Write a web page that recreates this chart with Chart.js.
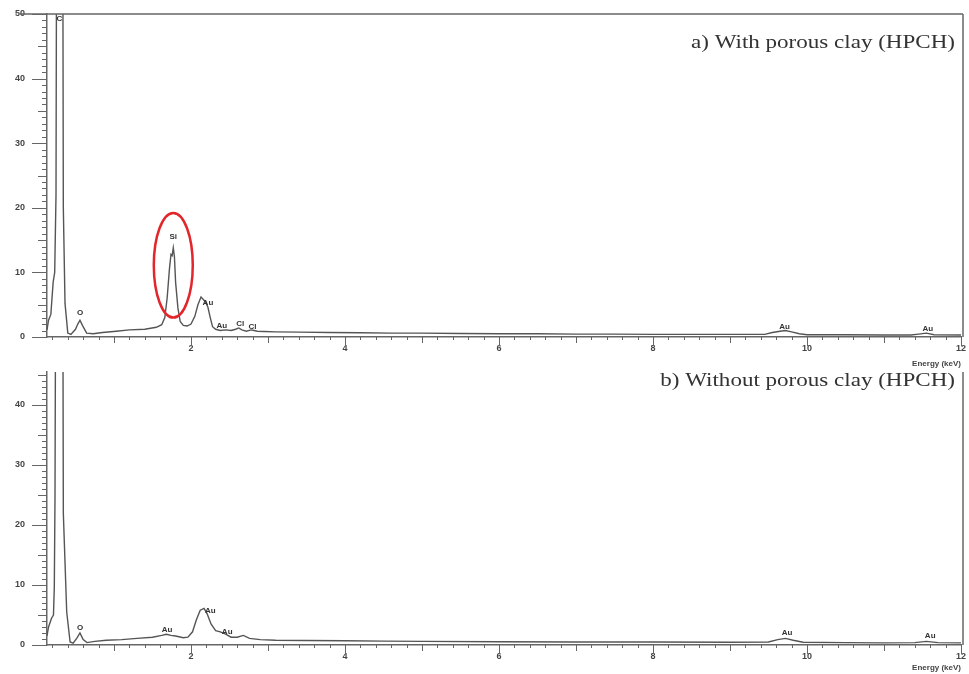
<!DOCTYPE html>
<html>
<head>
<meta charset="utf-8">
<script src="https://cdn.jsdelivr.net/npm/chart.js@4"></script>
<style>
html, body { margin: 0; padding: 0; background: #fff; }
#wrap { position: relative; width: 969px; height: 674px; }
canvas { position: absolute; left: 0; }
</style>
</head>
<body>
<div id="wrap">
    <canvas id="chartA" width="969" height="370" style="top:0"></canvas>
    <canvas id="chartB" width="969" height="314" style="top:360px"></canvas>
</div>
<script>
// spectrum a) with porous clay
const energyA = [0.13, 0.15, 0.18, 0.21, 0.23, 0.247, 0.26, 0.33, 0.342, 0.364, 0.40, 0.44, 0.50, 0.53, 0.558, 0.59, 0.645, 0.73, 0.85, 1.03,
    1.2, 1.4, 1.55, 1.62, 1.66, 1.69, 1.72, 1.74, 1.755, 1.77, 1.785, 1.80, 1.83, 1.86, 1.90, 1.95, 2.00, 2.05, 2.09, 2.13,
    2.16, 2.19, 2.22, 2.25, 2.28, 2.32, 2.38, 2.45, 2.52, 2.58, 2.62, 2.66, 2.72, 2.78, 2.82, 2.86, 2.95, 3.1, 3.4, 3.8,
    4.2, 4.6, 5.0, 5.5, 6.0, 6.5, 7.0, 7.5, 8.0, 8.5, 9.0, 9.45, 9.55, 9.65, 9.72, 9.8, 9.9, 10.0, 10.5, 11.0,
    11.35, 11.45, 11.55, 11.65, 12.0];
const countsA = [1.1, 2.6, 3.5, 8.5, 10, 22, 95, 95, 20, 5.2, 0.6, 0.4, 1.2, 2.0, 2.6, 1.8, 0.6, 0.5, 0.7, 0.9,
    1.1, 1.2, 1.5, 1.9, 3.0, 6.0, 10.5, 12.8, 12.6, 13.8, 12.4, 8.5, 4.5, 2.4, 1.8, 1.7, 2.0, 3.2, 5.0, 6.2,
    5.8, 5.4, 4.6, 3.0, 1.6, 1.2, 1.0, 1.1, 1.0, 1.2, 1.4, 1.1, 0.9, 1.1, 1.0, 0.9, 0.85, 0.8, 0.75, 0.7,
    0.65, 0.6, 0.6, 0.55, 0.5, 0.5, 0.45, 0.45, 0.4, 0.4, 0.4, 0.4, 0.7, 0.9, 1.0, 0.8, 0.5, 0.35, 0.35, 0.3,
    0.3, 0.45, 0.6, 0.35, 0.3];
const peakTextA = ['C', 'O', 'Si', 'Au', 'Au', 'Cl', 'Cl', 'Au', 'Au'];
const peakKevA = [0.29, 0.56, 1.77, 2.22, 2.4, 2.64, 2.8, 9.71, 11.57];
const peakPosA = [49.3, 3.7, 15.5, 5.3, 1.7, 2.0, 1.6, 1.6, 1.3];

// spectrum b) without porous clay
const energyB = [0.13, 0.15, 0.19, 0.214, 0.225, 0.234, 0.25, 0.33, 0.342, 0.386, 0.43, 0.47, 0.52, 0.558, 0.60, 0.65, 0.75, 0.9, 1.1, 1.3,
    1.5, 1.62, 1.68, 1.74, 1.8, 1.9, 1.96, 2.02, 2.07, 2.12, 2.17, 2.21, 2.26, 2.32, 2.38, 2.45, 2.52, 2.6, 2.68, 2.76,
    2.9, 3.1, 3.5, 4.0, 4.5, 5.0, 6.0, 7.0, 8.0, 9.0, 9.5, 9.62, 9.72, 9.82, 9.95, 10.5, 11.0, 11.4, 11.55, 11.7, 12.0];
const countsB = [1.5, 3, 4.5, 5, 9.7, 24.7, 95, 95, 22, 5.5, 0.5, 0.3, 1.2, 2.0, 0.9, 0.4, 0.6, 0.8, 0.9, 1.1,
    1.3, 1.6, 1.8, 1.6, 1.5, 1.2, 1.3, 2.2, 4.2, 5.8, 6.1, 5.2, 3.5, 2.4, 2.2, 1.8, 1.3, 1.3, 1.6, 1.1,
    0.9, 0.8, 0.75, 0.7, 0.65, 0.6, 0.55, 0.5, 0.5, 0.45, 0.5, 0.9, 1.1, 0.8, 0.45, 0.4, 0.35, 0.4, 0.6, 0.4, 0.35];
const peakTextB = ['O', 'Au', 'Au', 'Au', 'Au', 'Au'];
const peakKevB = [0.56, 1.69, 2.25, 2.47, 9.74, 11.6];
const peakPosB = [2.8, 2.5, 5.7, 2.2, 2.0, 1.5];

const xTickValues = [2, 4, 6, 8, 10, 12];
const yTicksA = [0, 10, 20, 30, 40, 50];
const yTicksB = [0, 10, 20, 30, 40];

// Si circle (keV, counts, half width keV, half height counts)
const siCircle = [1.77, 11.1, 0.253, 8.1];

const lineGray = '#555';
const axisGray = '#666';

// small ticks on both axes
const axisTicks = {
    id: 'axisTicks',
    afterDraw(chart) {
        const { ctx, chartArea: a, scales: { x, y } } = chart;
        ctx.save();
        ctx.strokeStyle = axisGray;
        ctx.lineWidth = 1;
        ctx.beginPath();
        for (let v = 0; v <= y.max; v++) {
            const py = Math.round(y.getPixelForValue(v)) + 0.5;
            const len = v % 10 === 0 ? 15 : (v % 5 === 0 ? 9 : 5);
            ctx.moveTo(a.left - len, py);
            ctx.lineTo(a.left, py);
        }
        for (let i = 1; i <= 60; i++) {
            const v = i / 5;
            if (v < x.min) continue;
            const px = Math.round(x.getPixelForValue(v)) + 0.5;
            const len = i % 10 === 0 ? 9 : (i % 5 === 0 ? 6 : 3);
            ctx.moveTo(px, a.bottom);
            ctx.lineTo(px, a.bottom + len);
        }
        ctx.stroke();
        ctx.restore();
    }
};

const framePlugin = {
    id: 'frame',
    afterDraw(chart, args, opts) {
        const { ctx, chartArea: a } = chart;
        ctx.save();
        ctx.strokeStyle = axisGray;
        ctx.lineWidth = 1.5;
        ctx.beginPath();
        if (opts.top) {
            ctx.moveTo(a.left - 27, a.top);
            ctx.lineTo(a.right + 2, a.top);
        }
        ctx.moveTo(a.right + 2, a.top);
        ctx.lineTo(a.right + 2, a.bottom);
        ctx.stroke();

        // panel title
        ctx.fillStyle = '#333';
        ctx.font = '18px "Liberation Serif"';
        ctx.textAlign = 'right';
        ctx.textBaseline = 'alphabetic';
        ctx.translate(955, opts.titleY);
        ctx.scale(1.28, 1);
        ctx.fillText(opts.title, 0, 0);
        ctx.restore();
    }
};

const peakLabels = {
    id: 'peakLabels',
    afterDatasetsDraw(chart, args, opts) {
        const { ctx, scales: { x, y } } = chart;
        ctx.save();
        ctx.fillStyle = '#333';
        ctx.font = 'bold 8px "Liberation Sans"';
        ctx.textAlign = 'center';
        ctx.textBaseline = 'middle';
        opts.text.forEach((t, i) => {
            ctx.fillText(t, x.getPixelForValue(opts.kev[i]), y.getPixelForValue(opts.pos[i]));
        });
        if (opts.circle) {
            const c = opts.circle;
            const cx = x.getPixelForValue(c[0]);
            const cy = y.getPixelForValue(c[1]);
            const rx = x.getPixelForValue(c[0] + c[2]) - cx;
            const ry = cy - y.getPixelForValue(c[1] + c[3]);
            ctx.strokeStyle = '#e2262b';
            ctx.lineWidth = 2.5;
            ctx.beginPath();
            ctx.ellipse(cx, cy, rx, ry, 0, 0, Math.PI * 2);
            ctx.stroke();
        }
        ctx.restore();
    }
};

function makeSpectrum(id, energies, counts, yMax, yTicks, topPad, xHeight, frameOpts, labelOpts) {
    return new Chart(document.getElementById(id), {
        type: 'line',
        data: {
            datasets: [{
                data: energies.map((e, i) => ({ x: e, y: counts[i] })),
                borderColor: lineGray,
                borderWidth: 1.4,
                pointRadius: 0,
                tension: 0,
                fill: false
            }]
        },
        options: {
            responsive: false,
            animation: false,
            layout: { padding: { top: topPad, right: 8, left: 0, bottom: 0 } },
            plugins: {
                legend: { display: false },
                tooltip: { enabled: false },
                frame: frameOpts,
                peakLabels: labelOpts
            },
            scales: {
                x: {
                    type: 'linear',
                    min: 0.13,
                    max: 12,
                    afterBuildTicks: s => { s.ticks = xTickValues.map(v => ({ value: v })); },
                    afterFit: s => {
                        s.height = xHeight;
                        s.paddingLeft = 0;
                        s.paddingRight = 0;
                    },
                    grid: { display: false, drawTicks: false },
                    border: { display: true, color: axisGray, width: 1.5 },
                    ticks: {
                        color: '#444',
                        padding: 6,
                        maxRotation: 0,
                        font: { family: 'Liberation Sans', size: 9, weight: 'bold' }
                    },
                    title: {
                        display: true,
                        text: 'Energy (keV)',
                        align: 'end',
                        color: '#444',
                        padding: { top: 0, bottom: 1 },
                        font: { family: 'Liberation Sans', size: 8, weight: 'bold' }
                    }
                },
                y: {
                    min: 0,
                    max: yMax,
                    afterBuildTicks: s => { s.ticks = yTicks.map(v => ({ value: v })); },
                    afterFit: s => {
                        s.width = 47;
                        s.paddingTop = 0;
                        s.paddingBottom = 0;
                    },
                    grid: { display: false, drawTicks: false },
                    border: { display: true, color: axisGray, width: 1.5 },
                    ticks: {
                        color: '#444',
                        padding: 22,
                        font: { family: 'Liberation Sans', size: 9, weight: 'bold' }
                    }
                }
            }
        },
        plugins: [axisTicks, framePlugin, peakLabels]
    });
}

const chartA = makeSpectrum('chartA', energyA, countsA, 50, yTicksA, 14, 33,
    { top: true, title: 'a) With porous clay (HPCH)', titleY: 48 },
    { text: peakTextA, kev: peakKevA, pos: peakPosA, circle: siCircle });

const chartB = makeSpectrum('chartB', energyB, countsB, 45.5, yTicksB, 12, 29,
    { top: false, title: 'b) Without porous clay (HPCH)', titleY: 26 },
    { text: peakTextB, kev: peakKevB, pos: peakPosB });
</script>
</body>
</html>
